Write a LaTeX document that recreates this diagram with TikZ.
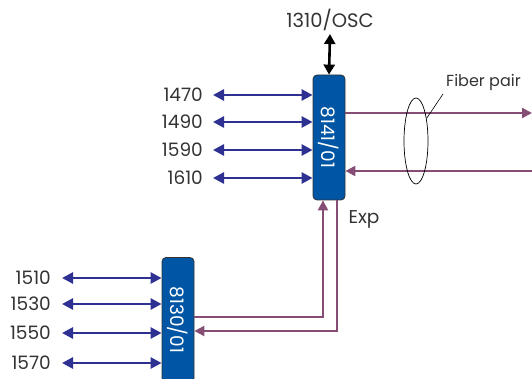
\documentclass[tikz,border=0pt]{standalone}
\usepackage{fontspec}
\setmainfont{Poppins}
\usetikzlibrary{arrows.meta, shapes.geometric, positioning}
\usepackage{xcolor}

\definecolor{unitblue}{HTML}{0055A4}
\definecolor{chanblue}{HTML}{2E3192}
\definecolor{fiberpurple}{HTML}{854C74}
\definecolor{labelgray}{HTML}{333333}

\tikzset{
  unit/.style={draw=black!80, fill=unitblue, rounded corners=4pt, line width=0.8pt,
    minimum width=32pt, minimum height=125pt, inner sep=0pt, text=white},
  chan/.style={draw=chanblue, line width=2.6pt,
    {Triangle[length=11pt,width=11pt]}-{Triangle[length=11pt,width=11pt]}},
  fiber/.style={draw=fiberpurple, line width=2.2pt, -{Triangle[length=10pt,width=10pt]}},
  wl/.style={text=labelgray, anchor=east, inner sep=0pt},
  note/.style={text=labelgray, inner sep=0pt}
}

\begin{document}
\begin{tikzpicture}[x=1pt, y=-1pt, every node/.style={font=\fontsize{18.5}{20}\selectfont}]
  \useasboundingbox (0,0) rectangle (532,379);
  \clip (0,0) rectangle (532,379);

  % units
  \node[unit] (mux) at (329,137.5) {\rotatebox{-90}{8141/01}};
  \node[unit] (exp) at (178,320) {\rotatebox{-90}{8130/01}};

  % channels on the main unit
  \foreach \wl/\y in {1470/95, 1490/122, 1590/150, 1610/178} {
    \node[wl] (w\wl) at (203,\y) {\wl};
    \draw[chan] ([xshift=10pt]w\wl.east) -- (w\wl -| mux.west);
  }

  % channels on the expansion unit
  \foreach \wl/\y in {1510/278, 1530/304, 1550/333, 1570/363} {
    \node[wl] (w\wl) at (51,\y) {\wl};
    \draw[chan] ([xshift=11pt]w\wl.east) -- (w\wl -| exp.west);
  }

  % supervisory channel
  \node[note, font=\fontsize{19.5}{21}\selectfont] (osc) at (330,20) {1310/OSC};
  \draw[black, line width=2.6pt, {Triangle[length=10pt,width=11pt]}-{Triangle[length=10pt,width=11pt]}]
    ([yshift=-3pt]osc.south) -- (mux.north);

  % line side
  \coordinate (txend) at (532,113);
  \coordinate (rxstart) at (532,171);
  \draw[fiber] (txend -| mux.east) -- (txend);
  \draw[fiber] (rxstart) -- (rxstart -| mux.east);
  \node[draw, ellipse, line width=0.7pt, minimum width=24pt, minimum height=86pt] (pair) at (416,141) {};
  \node[note, anchor=west, font=\fontsize{16}{18}\selectfont] (pairlbl) at (446,82) {Fiber pair};
  \draw[line width=0.6pt] (pair.65) -- ([shift={(-3,12)}]pairlbl.west);

  % expansion port
  \node[note] (explbl) at (364,219) {Exp};
  \draw[fiber] ([yshift=3pt]exp.east) -| ([xshift=-6pt]mux.south);
  \draw[fiber] ([xshift=8pt]mux.south) |- ([yshift=-11pt]exp.east);
\end{tikzpicture}
\end{document}
